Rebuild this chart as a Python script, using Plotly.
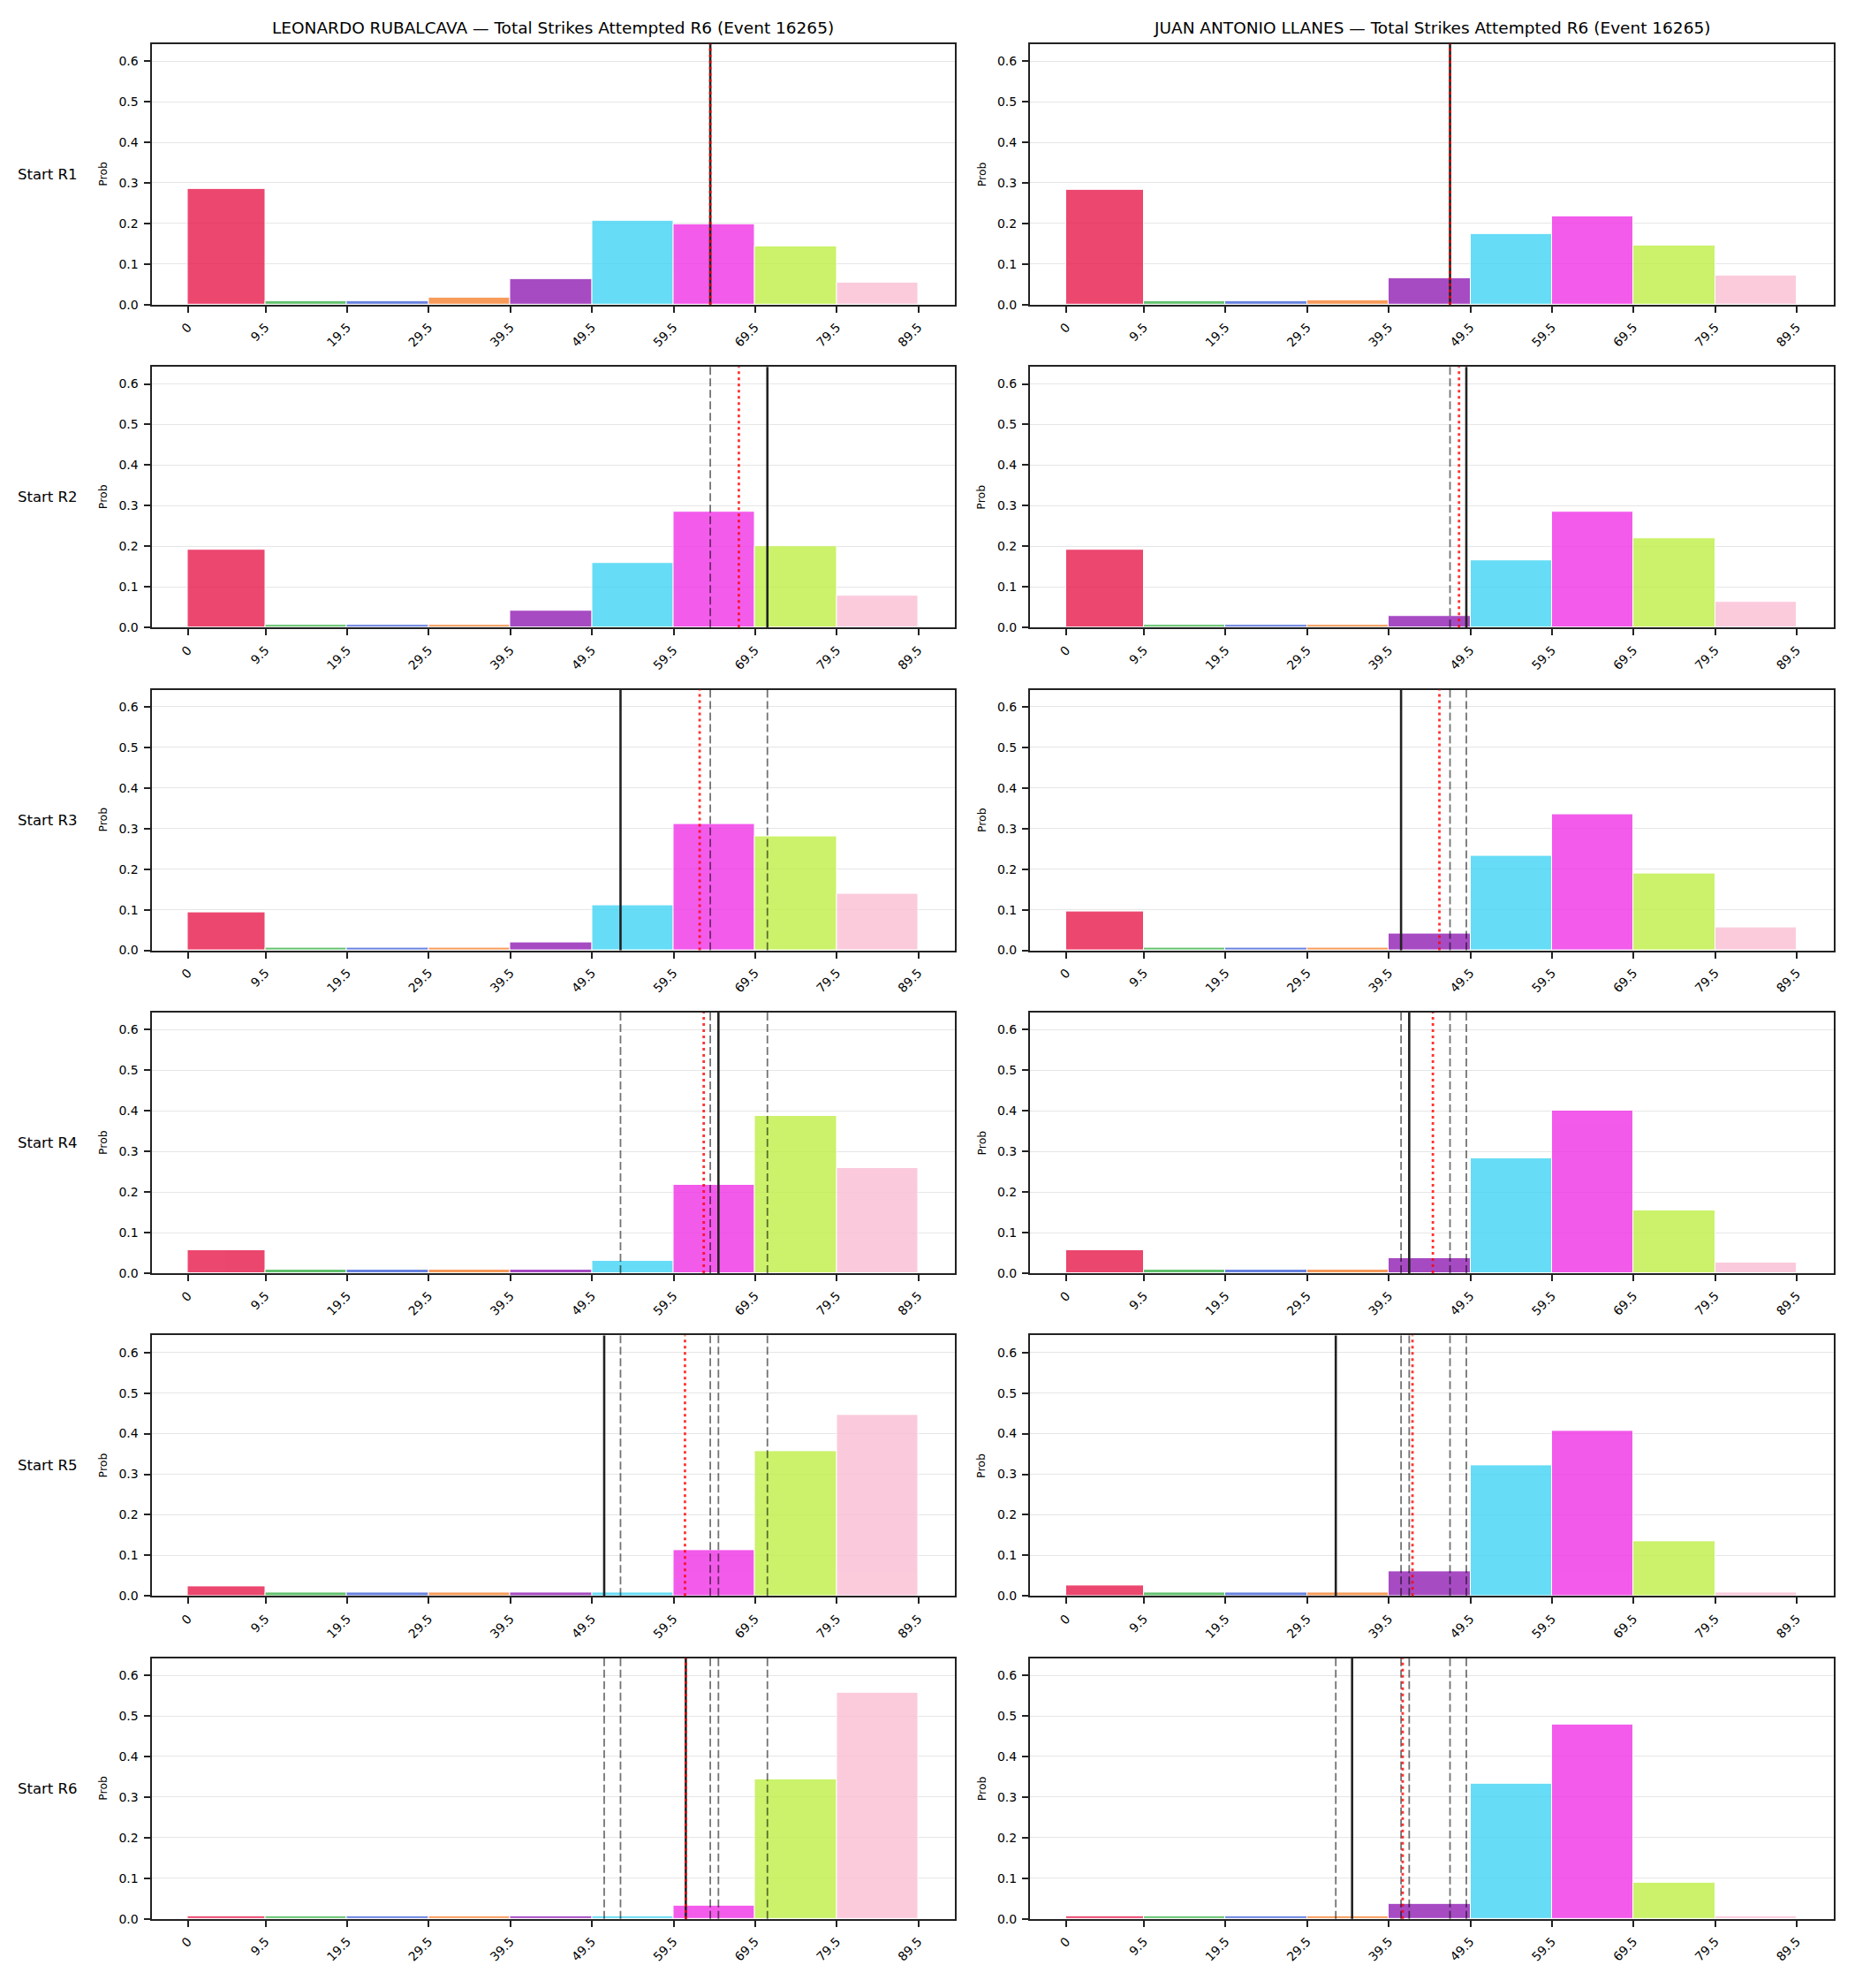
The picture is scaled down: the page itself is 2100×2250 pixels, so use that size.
import plotly.graph_objects as go

# ---------------- data ----------------
bin_edges = [0, 9.5, 19.5, 29.5, 39.5, 49.5, 59.5, 69.5, 79.5, 89.5]
tick_labels = ["0", "9.5", "19.5", "29.5", "39.5", "49.5", "59.5", "69.5", "79.5", "89.5"]
bin_colors = ["#e6194b", "#3cb44b", "#4363d8", "#f58231", "#911eb4",
              "#42d4f4", "#f032e6", "#bfef45", "#fabed4"]

rounds = ["R1", "R2", "R3", "R4", "R5", "R6"]
fighters = ["LEONARDO RUBALCAVA", "JUAN ANTONIO LLANES"]
title_suffix = " \u2014 Total Strikes Attempted R6 (Event 16265)"

leo_R1 = [0.285, 0.008, 0.008, 0.017, 0.063, 0.206, 0.198, 0.143, 0.054]
leo_R2 = [0.192, 0.007, 0.007, 0.007, 0.041, 0.159, 0.284, 0.200, 0.079]
leo_R3 = [0.093, 0.006, 0.006, 0.006, 0.019, 0.110, 0.311, 0.280, 0.139]
leo_R4 = [0.056, 0.008, 0.008, 0.008, 0.008, 0.030, 0.217, 0.387, 0.258]
leo_R5 = [0.023, 0.008, 0.008, 0.008, 0.008, 0.008, 0.114, 0.357, 0.446]
leo_R6 = [0.006, 0.006, 0.006, 0.006, 0.006, 0.006, 0.032, 0.343, 0.557]

juan_R1 = [0.282, 0.008, 0.008, 0.010, 0.065, 0.174, 0.217, 0.145, 0.071]
juan_R2 = [0.192, 0.007, 0.007, 0.007, 0.029, 0.166, 0.284, 0.220, 0.064]
juan_R3 = [0.095, 0.006, 0.006, 0.006, 0.041, 0.232, 0.335, 0.189, 0.056]
juan_R4 = [0.057, 0.008, 0.008, 0.008, 0.036, 0.282, 0.400, 0.154, 0.025]
juan_R5 = [0.025, 0.008, 0.008, 0.008, 0.060, 0.322, 0.407, 0.134, 0.008]
juan_R6 = [0.006, 0.006, 0.006, 0.006, 0.036, 0.333, 0.479, 0.089, 0.006]

leo_actual = [64, 71, 53, 65, 51, 61]
juan_actual = [47, 49, 41, 42, 33, 35]
leo_projection = [64, 67.5, 62.7, 63.2, 60.9, 61]
juan_projection = [47, 48.1, 45.7, 44.9, 42.4, 41.2]

probs = [[leo_R1, leo_R2, leo_R3, leo_R4, leo_R5, leo_R6],
         [juan_R1, juan_R2, juan_R3, juan_R4, juan_R5, juan_R6]]
actuals = [leo_actual, juan_actual]
projections = [leo_projection, juan_projection]

# ---------------- layout geometry ----------------
W, H = 2100, 2250
col_px = [(171.5, 1081.0), (1166.0, 2075.5)]
row_top0, row_step, row_h = 50.0, 366.7, 296.0
x_range = [-4.475, 93.975]
y_range = [0, 0.642]
FONT = "DejaVu Sans"

centers = [(bin_edges[i] + bin_edges[i + 1]) / 2 for i in range(len(bin_edges) - 1)]
widths = [bin_edges[i + 1] - bin_edges[i] for i in range(len(bin_edges) - 1)]

fig = go.Figure()
shapes = []
annotations = []
layout_axes = {}

for r in range(6):
    top = row_top0 + r * row_step
    bot = top + row_h
    ydom = [1 - bot / H, 1 - top / H]
    for c in range(2):
        idx = r * 2 + c + 1
        xa = "x" if idx == 1 else f"x{idx}"
        ya = "y" if idx == 1 else f"y{idx}"
        xdom = [col_px[c][0] / W, col_px[c][1] / W]

        fig.add_trace(go.Bar(
            x=centers, y=probs[c][r], width=widths,
            marker=dict(color=bin_colors, opacity=0.8,
                        line=dict(color="white", width=1)),
            xaxis=xa, yaxis=ya, showlegend=False,
        ))

        layout_axes["xaxis" if idx == 1 else f"xaxis{idx}"] = dict(
            domain=xdom, anchor=ya, range=x_range,
            tickmode="array", tickvals=bin_edges, ticktext=tick_labels,
            tickangle=-45, tickfont=dict(family=FONT, size=14, color="black"),
            showgrid=False, zeroline=False,
            showline=True, mirror=True, linecolor="#222", linewidth=2,
            ticks="outside", ticklen=7, tickwidth=1.5, tickcolor="#222",
            ticklabelstandoff=3,
        )
        layout_axes["yaxis" if idx == 1 else f"yaxis{idx}"] = dict(
            domain=ydom, anchor=xa, range=y_range,
            tickmode="array", tickvals=[0, 0.1, 0.2, 0.3, 0.4, 0.5, 0.6],
            tickformat=".1f", tickfont=dict(family=FONT, size=14, color="black"),
            showgrid=True, gridcolor="#e6e6e6", gridwidth=1, zeroline=False,
            showline=True, mirror=True, linecolor="#222", linewidth=2,
            ticks="outside", ticklen=7, tickwidth=1.5, tickcolor="#222",
            ticklabelstandoff=3,
        )

        # previous rounds' actual values (dashed gray)
        for prev in actuals[c][:r]:
            shapes.append(dict(type="line", xref=xa, yref=f"{ya} domain",
                               x0=prev, x1=prev, y0=0, y1=1, layer="above",
                               line=dict(color="rgba(0,0,0,0.55)", width=1.8, dash="9px,4px")))
        # current actual (black solid)
        a = actuals[c][r]
        shapes.append(dict(type="line", xref=xa, yref=f"{ya} domain",
                           x0=a, x1=a, y0=0, y1=1, layer="above",
                           line=dict(color="#222", width=2.6)))
        # projection (red dotted)
        p = projections[c][r]
        shapes.append(dict(type="line", xref=xa, yref=f"{ya} domain",
                           x0=p, x1=p, y0=0, y1=1, layer="above",
                           line=dict(color="rgba(255,0,0,0.8)", width=2.8, dash="3px,4px")))

        # "Prob" y label
        annotations.append(dict(text="Prob", xref="paper", yref="paper",
                                x=(col_px[c][0] - 55) / W, y=(ydom[0] + ydom[1]) / 2,
                                xanchor="center", yanchor="middle", textangle=-90,
                                showarrow=False, font=dict(family=FONT, size=12.5, color="black")))

        if r == 0:
            annotations.append(dict(text=fighters[c] + title_suffix, xref="paper", yref="paper",
                                    x=(xdom[0] + xdom[1]) / 2, y=1 - 32 / H,
                                    xanchor="center", yanchor="middle", showarrow=False,
                                    font=dict(family=FONT, size=18.5, color="black")))

    annotations.append(dict(text="Start " + rounds[r], xref="paper", yref="paper",
                            x=90 / W, y=(ydom[0] + ydom[1]) / 2,
                            xanchor="right", yanchor="middle", showarrow=False,
                            font=dict(family=FONT, size=16.5, color="black")))

fig.update_layout(
    width=W, height=H,
    margin=dict(l=0, r=0, t=0, b=0),
    paper_bgcolor="white", plot_bgcolor="white",
    bargap=0, showlegend=False,
    shapes=shapes, annotations=annotations,
    font=dict(family=FONT, color="black"),
    **layout_axes,
)

fig.write_html("out.html")
